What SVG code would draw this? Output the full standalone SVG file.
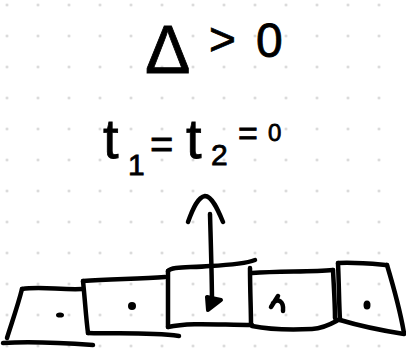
<svg xmlns="http://www.w3.org/2000/svg" width="406" height="348" viewBox="0 0 406 348">
  <defs>
    <pattern id="grid" patternUnits="userSpaceOnUse" x="-8.5" y="-10.5" width="31" height="31">
      <circle cx="15.5" cy="15.5" r="1.2" fill="#c9c9c9"/>
    </pattern>
    <style>
      .ink { fill: none; stroke: #000; stroke-width: 4.5; stroke-linecap: round; stroke-linejoin: round; }
      .dot { fill: #000; }
      .hand { font-family: "Liberation Sans", "DejaVu Sans", sans-serif; fill: #000; stroke: #000; stroke-width: 0.8; }
    </style>
  </defs>
  <rect width="406" height="348" fill="#fff"/>
  <rect width="406" height="348" fill="url(#grid)"/>

  <g id="label-delta">
    <text class="hand" font-size="68" x="145" y="73">Δ</text>
    <text class="hand" font-size="46" x="209" y="55">&gt;</text>
    <text class="hand" font-size="48" x="256" y="57">0</text>
  </g>

  <g id="label-t">
    <text class="hand" font-size="56"><tspan x="103" y="158">t</tspan><tspan x="128" y="175" font-size="30">1</tspan><tspan x="150" y="158" font-size="40">=</tspan><tspan x="186" y="158">t</tspan><tspan x="211" y="165" font-size="30">2</tspan><tspan x="238" y="145" font-size="34">=</tspan><tspan x="268" y="141" font-size="24">0</tspan></text>
  </g>

  <g id="box1">
    <path class="ink" d="M22,289 C40,286 60,290 82,289"/>
    <path class="ink" d="M22,289 C18,305 12,322 7,338"/>
    <path class="ink" d="M3,343 C35,341 65,343 93,345"/>
    <ellipse class="dot" cx="60" cy="315" rx="4" ry="2.6"/>
  </g>
  <g id="box2">
    <path class="ink" d="M83,281 C85,300 86,318 88,333"/>
    <path class="ink" d="M83,281 C110,279 140,279 165,277"/>
    <path class="ink" d="M88,333 C120,334 150,332 179,336"/>
    <circle class="dot" cx="132" cy="306" r="4"/>
  </g>
  <g id="box3">
    <path class="ink" d="M168,271 C168,290 168,310 168,327"/>
    <path class="ink" d="M168,271 C172,266 190,268 210,266 C230,265 245,264 255,260"/>
    <path class="ink" d="M250,268 C250,290 251,310 251,325"/>
    <path class="ink" d="M168,327 C190,322 220,325 252,325"/>
  </g>
  <g id="box4">
    <path class="ink" d="M252,273 C280,271 310,272 333,270"/>
    <path class="ink" d="M333,270 C334,290 335,305 335,318"/>
    <path class="ink" d="M252,326 C272,330 292,330 312,329 C326,328 334,322 340,319"/>
    <path class="ink" d="M278,296 L271,307 M273,303 C278,298 284,301 283,311"/>
  </g>
  <g id="box5">
    <path class="ink" d="M338,263 C355,262 375,264 387,265"/>
    <path class="ink" d="M338,263 C339,285 339,305 340,320"/>
    <path class="ink" d="M387,265 C393,285 400,310 404,333"/>
    <path class="ink" d="M340,320 C360,326 385,331 404,334"/>
    <ellipse class="dot" cx="367" cy="305" rx="3.5" ry="4.5"/>
  </g>

  <g id="connectors">
    <path class="ink" d="M210,214 C211,250 212,280 212,304"/>
    <path class="ink" d="M188,222 C193,208 198,197 205,196 C212,196 218,210 223,222"/>
    <path d="M207,297 L208,310 L221,300 Z" fill="#000" stroke="#000" stroke-width="4" stroke-linejoin="round"/>
  </g>
</svg>
